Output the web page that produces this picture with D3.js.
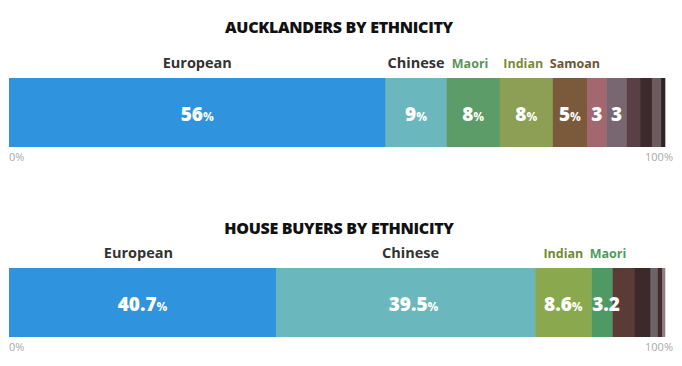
<!DOCTYPE html>
<html><head><meta charset="utf-8">
<script src="https://cdn.jsdelivr.net/npm/d3@7"></script>
<style>
body{margin:0;background:#fff;}
svg{display:block;}
</style></head>
<body>
<svg id="chart" width="682" height="366"></svg>
<script>
// ---- Data ----
const titles = ["AUCKLANDERS BY ETHNICITY", "HOUSE BUYERS BY ETHNICITY"];

const aucklandCategories = ["European","Chinese","Maori","Indian","Samoan","Other A","Other B","Other C","Other D","Other E","Other F"];
const aucklandValues = [57.4, 9.3, 8.1, 8.1, 5.2, 3.0, 3.0, 2.1, 1.8, 1.4, 0.6];
const aucklandValueLabels = ["56","9","8","8","5","3","3","","","",""];
const aucklandShowPct = [true,true,true,true,true,false,false,false,false,false,false];
const aucklandNameLabels = ["European","Chinese","Maori","Indian","Samoan","","","","","",""];
const aucklandColors = ["#2f93dd","#6ab8be","#5b9c69","#8c9f54","#7b5a3c","#a2676f","#786670","#5b3f46","#3d2a2d","#6c5c5f","#2e2224"];
const aucklandNameColors = ["#333333","#333333","#5a9455","#7a8a3a","#6b5636","","","","","",""];

const buyerCategories = ["European","Chinese","Indian","Maori","Other A","Other B","Other C","Other D","Other E"];
const buyerValues = [40.7, 39.5, 8.6, 3.2, 3.4, 2.4, 1.1, 0.7, 0.4];
const buyerValueLabels = ["40.7","39.5","8.6","3.2","","","","",""];
const buyerShowPct = [true,true,true,false,false,false,false,false,false];
const buyerNameLabels = ["European","Chinese","Indian","Maori","","","","",""];
const buyerColors = ["#2f93dd","#6ab8be","#8aa94f","#4f9964","#5a3b35","#3c2a2b","#6e6468","#4a2a31","#8c8283"];
const buyerNameColors = ["#333333","#333333","#718a33","#4f9a5a","","","","",""];

const axisTicks = ["0%","100%"];

// ---- Drawing ----
const svg = d3.select("#chart");
const x = d3.scaleLinear().domain([0,100]).range([9,665]);

function drawPanel(cfg){
  const g = svg.append("g");
  g.append("text")
    .attr("x", 339).attr("y", cfg.titleY)
    .attr("text-anchor","middle")
    .attr("font-family","'Open Sans', sans-serif")
    .attr("font-weight",800).attr("font-size",16)
    .attr("fill","#111")
    .attr("letter-spacing","-0.3")
    .text(cfg.title);

  let cum = 0;
  const segs = cfg.values.map((v,i)=>{ const s={i, v, x0:cum, x1:cum+v}; cum+=v; return s; });

  g.selectAll("rect.seg").data(segs).enter().append("rect")
    .attr("class","seg")
    .attr("x", d=>x(d.x0)).attr("width", d=>x(d.x1)-x(d.x0)+0.3)
    .attr("y", cfg.barY).attr("height", cfg.barH)
    .attr("fill", d=>cfg.colors[d.i]);

  // category names
  g.selectAll("text.name").data(segs.filter(d=>cfg.names[d.i])).enter().append("text")
    .attr("class","name")
    .attr("x", d=>(x(d.x0)+x(d.x1))/2 + (cfg.nameDx[d.i]||0))
    .attr("y", cfg.barY-10)
    .attr("text-anchor","middle")
    .attr("font-family","'Open Sans', sans-serif")
    .attr("font-weight",700).attr("font-size", d=> d.i<2 ? 14.5 : 12.5)
    .attr("fill", d=>cfg.nameColors[d.i])
    .text(d=>cfg.names[d.i]);

  // value labels
  const vl = g.selectAll("text.val").data(segs.filter(d=>cfg.valueLabels[d.i])).enter().append("text")
    .attr("class","val")
    .attr("x", d=>(x(d.x0)+x(d.x1))/2 + (cfg.valDx[d.i]||0))
    .attr("y", cfg.barY+cfg.barH/2+8)
    .attr("text-anchor","middle")
    .attr("font-family","'Open Sans', sans-serif")
    .attr("font-weight",800).attr("font-size",19)
    .attr("fill","#fff");
  vl.append("tspan").text(d=>cfg.valueLabels[d.i]);
  vl.filter(d=>cfg.showPct[d.i]).append("tspan").attr("font-size",12).attr("font-weight",700).text("%");

  // axis ticks
  g.append("text").attr("x", x(0)).attr("y", cfg.barY+cfg.barH+14)
    .attr("font-family","'Open Sans', sans-serif").attr("font-size",11).attr("fill","#aaa")
    .text(axisTicks[0]);
  g.append("text").attr("x", 673).attr("y", cfg.barY+cfg.barH+14)
    .attr("text-anchor","end")
    .attr("font-family","'Open Sans', sans-serif").attr("font-size",11).attr("fill","#aaa")
    .text(axisTicks[1]);
}

drawPanel({title:titles[0], titleY:33, barY:78, barH:69,
  values:aucklandValues, colors:aucklandColors, names:aucklandNameLabels, nameColors:aucklandNameColors,
  valueLabels:aucklandValueLabels, showPct:aucklandShowPct,
  nameDx:{2:-3,3:-3,4:5}, valDx:{}});
drawPanel({title:titles[1], titleY:234, barY:268, barH:69,
  values:buyerValues, colors:buyerColors, names:buyerNameLabels, nameColors:buyerNameColors,
  valueLabels:buyerValueLabels, showPct:buyerShowPct,
  nameDx:{0:-4,1:5,3:6}, valDx:{1:8,3:4}});
</script>
</body></html>
